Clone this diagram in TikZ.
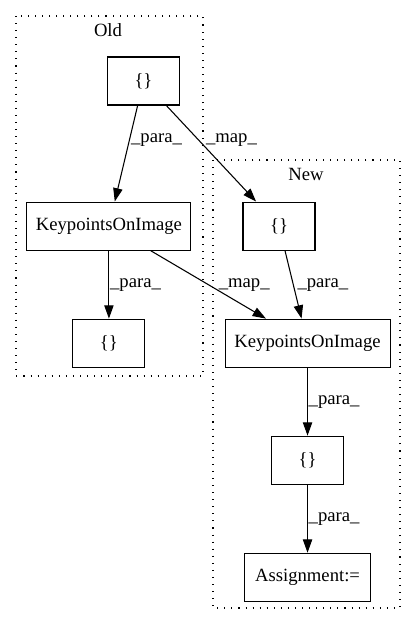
\documentclass[tikz,border=0pt]{standalone}
\usepackage{fontspec}
\setmainfont{Liberation Serif}
\usetikzlibrary{arrows.meta, positioning}

\begin{document}
\begin{tikzpicture}[thick, > = {Triangle[length=10pt, width=7pt]},
    font=\fontsize{14pt}{16pt}\selectfont]
    \tikzset{
      my box/.style={
        draw, rectangle, minimum width=#1, minimum height=36pt, inner xsep=6pt
      },
      my box/.default=54pt,
      my cluster/.style={
        draw, line width=0.8pt, dash pattern=on 0.8pt off 4.5pt
      },
      my edge label/.style={anchor=west, inner sep=0pt},
    }
    \useasboundingbox (0,0) rectangle (312pt,-468pt);

    % Clusters
    \draw[my cluster] (12pt,-12pt) rectangle (152.25pt,-282pt);
    \draw[my cluster] (159.75pt,-120pt) rectangle (300pt,-456pt);
    \node (oldTitle) at (81pt,-22.5pt) {Old};
    \node (newTitle) at (229.5pt,-130.5pt) {New};

    % Old side
    \node (oldDict) [my box] at (107.6pt,-60.75pt) {\{\}};
    \node (oldKOI) [my box=123pt, below=72pt of oldDict, xshift=-25.9pt] {KeypointsOnImage};
    \node (oldDictB) [my box, below=51pt of oldKOI] {\{\}};

    % New side
    \node (newDict) [my box, right=38.25pt of oldKOI] {\{\}};
    \node (newKOI) [my box=123.75pt, below=51pt of newDict, xshift=21.4pt] {KeypointsOnImage};
    \node (newDictB) [my box, below=51pt of newKOI] {\{\}};
    \node (assign) [my box=94.5pt, below=51pt of newDictB] {Assignment:=};

    % Edges
    \foreach \from/\to/\lbl/\pos/\dx in {
      oldDict/oldKOI/para/0.365/1pt,
      oldDict/newDict/map/0.365/4.8pt,
      oldKOI/oldDictB/para/0.5/0.5pt,
      oldKOI/newKOI/map/0.5/7.5pt,
      newDict/newKOI/para/0.5/2.8pt,
      newKOI/newDictB/para/0.5/0.5pt,
      newDictB/assign/para/0.5/0.5pt} {
      \draw[->] (\from) -- (\to) node[my edge label, pos=\pos, xshift=\dx] {\_\lbl\_};
    }
\end{tikzpicture}
\end{document}
